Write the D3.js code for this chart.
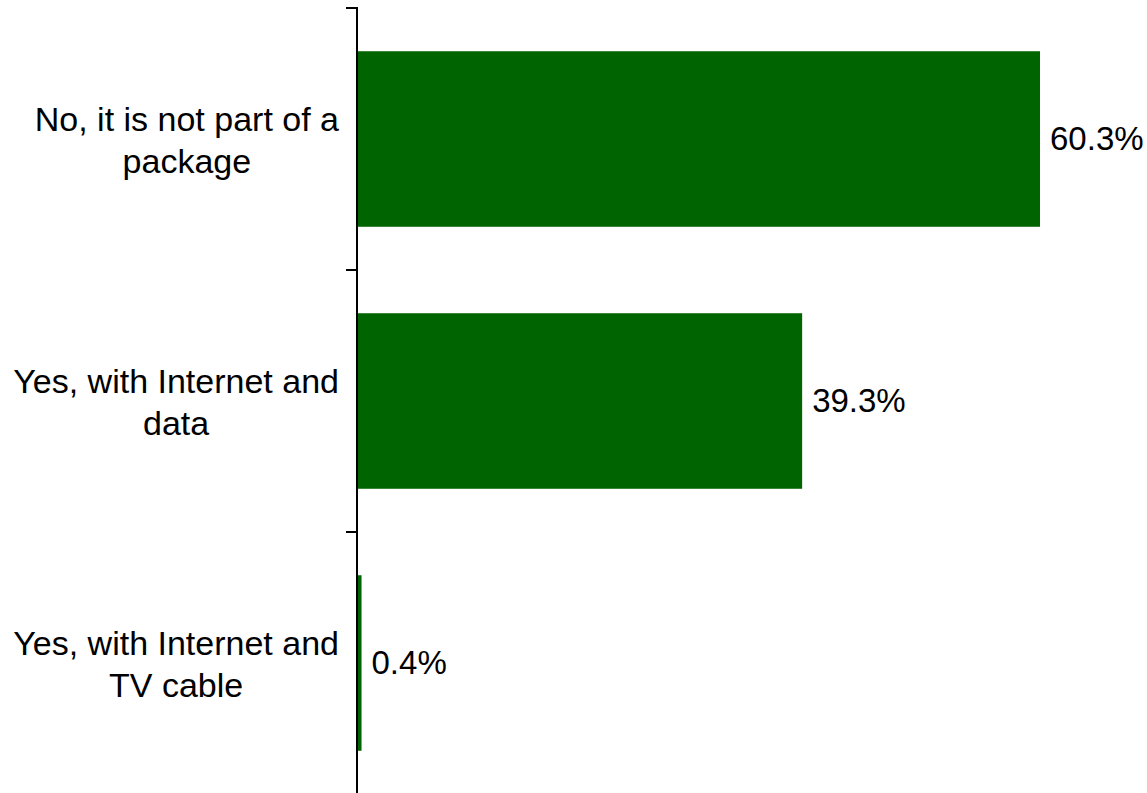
<!DOCTYPE html>
<html>
<head>
<meta charset="utf-8">
<script src="https://cdn.jsdelivr.net/npm/d3@7"></script>
<style>
  html, body { margin: 0; padding: 0; background: #fff; }
  svg { display: block; }
  text { font-family: "Liberation Sans", Arial, sans-serif; fill: #000; }
</style>
</head>
<body>
<svg id="chart" width="1147" height="793"></svg>
<script>
// Answers and their shares (percent)
const categories = [
  "No, it is not part of a package",
  "Yes, with Internet and data",
  "Yes, with Internet and TV cable"
];
const values = [60.3, 39.3, 0.4];
const valueLabels = ["60.3%", "39.3%", "0.4%"];

const W = 1147, H = 793;
const valueFontSize = 33;
const catFontSize = 34;
const lineHeight = 42;
const axisX = 357;
const barColor = "#006400";

const svg = d3.select("#chart");

const x = d3.scaleLinear().domain([0, 70]).range([axisX, axisX + 70 * 11.327]);
const y = d3.scaleBand().domain(categories).range([8, 794]).paddingInner(0.33).paddingOuter(0.165);

// Bars
svg.selectAll("rect.bar")
  .data(values)
  .enter().append("rect")
  .attr("class", "bar")
  .attr("x", x(0))
  .attr("y", (d, i) => y(categories[i]))
  .attr("width", d => x(d) - x(0))
  .attr("height", y.bandwidth())
  .attr("fill", barColor);

// Value labels to the right of each bar
svg.selectAll("text.value")
  .data(values)
  .enter().append("text")
  .attr("class", "value")
  .attr("x", d => x(d) + 10)
  .attr("y", (d, i) => y(categories[i]) + y.bandwidth() / 2 + 11)
  .attr("font-size", valueFontSize)
  .text((d, i) => valueLabels[i]);

// Category axis: vertical line with ticks at band boundaries
const boundaries = [0, 1, 2, 3].map(i => 8 + i * (786 / 3));
svg.append("line")
  .attr("x1", axisX).attr("x2", axisX)
  .attr("y1", 7).attr("y2", H)
  .attr("stroke", "#000").attr("stroke-width", 2);
svg.selectAll("line.tick")
  .data(boundaries)
  .enter().append("line")
  .attr("class", "tick")
  .attr("x1", axisX - 11).attr("x2", axisX)
  .attr("y1", d => d).attr("y2", d => d)
  .attr("stroke", "#000").attr("stroke-width", 2);

// Wrapped category labels, lines centered within a right-aligned block
const maxLineWidth = 335;
const rightEdge = 339;
categories.forEach(cat => {
  const g = svg.append("g");
  const probe = g.append("text").attr("font-size", catFontSize);
  const words = cat.split(" ");
  const lines = [];
  let cur = [];
  words.forEach(w => {
    const test = cur.concat([w]).join(" ");
    probe.text(test);
    if (probe.node().getComputedTextLength() > maxLineWidth && cur.length) {
      lines.push(cur.join(" "));
      cur = [w];
    } else {
      cur.push(w);
    }
  });
  if (cur.length) lines.push(cur.join(" "));
  let widest = 0;
  lines.forEach(l => {
    probe.text(l);
    widest = Math.max(widest, probe.node().getComputedTextLength());
  });
  probe.remove();
  const cx = rightEdge - widest / 2;
  const mid = y(cat) + y.bandwidth() / 2;
  const firstBaseline = mid - 8 - (lines.length - 2) * lineHeight / 2;
  lines.forEach((l, i) => {
    g.append("text")
      .attr("x", cx)
      .attr("y", firstBaseline + i * lineHeight)
      .attr("text-anchor", "middle")
      .attr("font-size", catFontSize)
      .text(l);
  });
});
</script>
</body>
</html>
